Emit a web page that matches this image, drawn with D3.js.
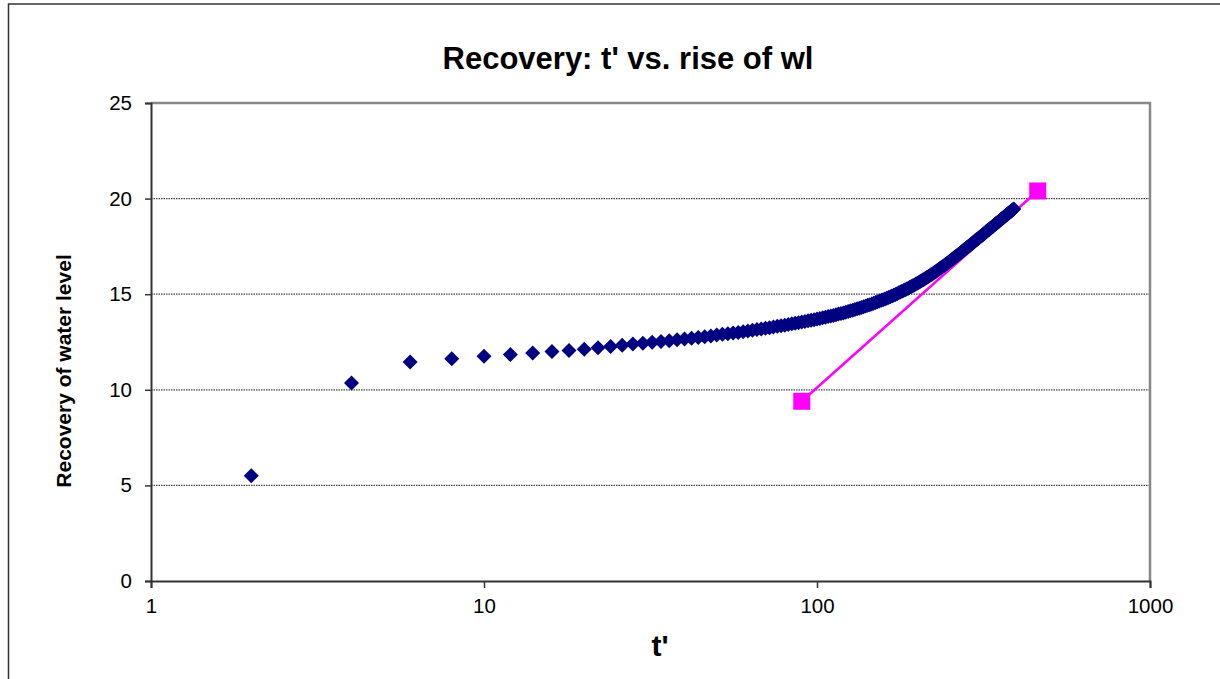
<!DOCTYPE html>
<html>
<head>
<meta charset="utf-8">
<script src="https://cdnjs.cloudflare.com/ajax/libs/d3/7.8.5/d3.min.js"></script>
<style>
  body { margin: 0; background: #fff; }
  text { font-family: Arial, "Liberation Sans", sans-serif; }
</style>
</head>
<body>
<script>
var width = 1220;
var height = 679;

// time since pumping stopped, t' (minutes)
var tPrime = [
  2, 4, 6, 8, 10, 12, 14, 16, 18, 20,
  22, 24, 26, 28, 30, 32, 34, 36, 38, 40,
  42, 44, 46, 48, 50, 52, 54, 56, 58, 60,
  62, 64, 66, 68, 70, 72, 74, 76, 78, 80,
  82, 84, 86, 88, 90, 92, 94, 96, 98, 100,
  102, 104, 106, 108, 110, 112, 114, 116, 118, 120,
  122, 124, 126, 128, 130, 132, 134, 136, 138, 140,
  142, 144, 146, 148, 150, 152, 154, 156, 158, 160,
  162, 164, 166, 168, 170, 172, 174, 176, 178, 180,
  182, 184, 186, 188, 190, 192, 194, 196, 198, 200,
  202, 204, 206, 208, 210, 212, 214, 216, 218, 220,
  222, 224, 226, 228, 230, 232, 234, 236, 238, 240,
  242, 244, 246, 248, 250, 252, 254, 256, 258, 260,
  262, 264, 266, 268, 270, 272, 274, 276, 278, 280,
  282, 284, 286, 288, 290, 292, 294, 296, 298, 300,
  302, 304, 306, 308, 310, 312, 314, 316, 318, 320,
  322, 324, 326, 328, 330, 332, 334, 336, 338, 340,
  342, 344, 346, 348, 350, 352, 354, 356, 358, 360,
  362, 364, 366, 368, 370, 372, 374, 376, 378, 380,
  382, 384, 386, 388, 390
];

// recovery of water level at each t'
var recovery = [
  5.50, 10.35, 11.45, 11.62, 11.75, 11.84, 11.93, 12.00, 12.06, 12.12,
  12.20, 12.27, 12.33, 12.39, 12.44, 12.49, 12.53, 12.57, 12.62, 12.66,
  12.70, 12.74, 12.78, 12.82, 12.86, 12.90, 12.93, 12.97, 13.00, 13.04,
  13.08, 13.11, 13.15, 13.18, 13.22, 13.25, 13.28, 13.32, 13.35, 13.38,
  13.41, 13.45, 13.48, 13.51, 13.54, 13.57, 13.61, 13.64, 13.67, 13.70,
  13.73, 13.77, 13.80, 13.83, 13.86, 13.89, 13.93, 13.96, 13.99, 14.02,
  14.06, 14.09, 14.13, 14.16, 14.20, 14.24, 14.27, 14.31, 14.34, 14.38,
  14.42, 14.45, 14.49, 14.53, 14.56, 14.60, 14.64, 14.68, 14.71, 14.75,
  14.79, 14.83, 14.87, 14.91, 14.95, 14.99, 15.03, 15.07, 15.11, 15.15,
  15.19, 15.23, 15.27, 15.31, 15.36, 15.40, 15.44, 15.48, 15.53, 15.57,
  15.61, 15.66, 15.70, 15.74, 15.79, 15.83, 15.88, 15.92, 15.97, 16.02,
  16.06, 16.11, 16.15, 16.20, 16.25, 16.29, 16.34, 16.39, 16.43, 16.48,
  16.53, 16.57, 16.62, 16.67, 16.71, 16.76, 16.81, 16.85, 16.90, 16.95,
  16.99, 17.04, 17.08, 17.13, 17.17, 17.22, 17.26, 17.31, 17.35, 17.39,
  17.44, 17.48, 17.52, 17.56, 17.61, 17.65, 17.69, 17.73, 17.78, 17.82,
  17.86, 17.90, 17.94, 17.98, 18.02, 18.06, 18.10, 18.14, 18.18, 18.22,
  18.26, 18.30, 18.34, 18.37, 18.41, 18.45, 18.49, 18.53, 18.56, 18.60,
  18.64, 18.68, 18.71, 18.75, 18.78, 18.82, 18.86, 18.89, 18.93, 18.96,
  19.00, 19.03, 19.07, 19.10, 19.13, 19.17, 19.20, 19.24, 19.27, 19.30,
  19.33, 19.37, 19.40, 19.43, 19.46
];

// straight line fitted to the late-time data
var fitT = [90, 460];
var fitY = [9.4, 20.4];

var xTicks = [1, 10, 100, 1000];
var yTicks = [0, 5, 10, 15, 20, 25];

var margin = { top: 103, right: 70, bottom: 98, left: 151 };
var plotW = width - margin.left - margin.right;
var plotH = height - margin.top - margin.bottom;

var x = d3.scaleLog().domain([1, 1000]).range([0, plotW]);
var y = d3.scaleLinear().domain([0, 25]).range([plotH, 0]);

var svg = d3.select('body')
  .append('svg')
  .attr('width', width)
  .attr('height', height);

// chart area frame (runs off the right and bottom of the picture)
svg.append('rect')
  .attr('x', 8.5)
  .attr('y', 4)
  .attr('width', 1300)
  .attr('height', 800)
  .attr('fill', '#fff')
  .attr('stroke', '#333')
  .attr('stroke-width', 1.5);

svg.append('text')
  .attr('x', 628)
  .attr('y', 69)
  .attr('text-anchor', 'middle')
  .attr('font-size', 31)
  .attr('font-weight', 'bold')
  .text("Recovery: t' vs. rise of wl");

var g = svg.append('g')
  .attr('transform', 'translate(' + margin.left + ',' + margin.top + ')');

// dotted gridlines
g.selectAll('.grid')
  .data(yTicks.filter(function(d) { return d > 0 && d < 25; }))
  .enter()
  .append('line')
  .attr('class', 'grid')
  .attr('x1', 0)
  .attr('x2', plotW)
  .attr('y1', function(d) { return y(d); })
  .attr('y2', function(d) { return y(d); })
  .attr('stroke', '#444')
  .attr('stroke-width', 1.3)
  .attr('stroke-dasharray', '1.5,1');

// plot area border, top and right
g.append('path')
  .attr('d', 'M0,0H' + plotW + 'V' + plotH)
  .attr('fill', 'none')
  .attr('stroke', '#888')
  .attr('stroke-width', 2.5);

var xAxis = g.append('g')
  .attr('transform', 'translate(0,' + plotH + ')')
  .call(d3.axisBottom(x).tickValues(xTicks).tickFormat(d3.format('d')).tickSizeOuter(0).tickSize(7).tickPadding(10));

var yAxis = g.append('g')
  .call(d3.axisLeft(y).tickValues(yTicks).tickSizeOuter(0).tickSize(6).tickPadding(13));

[xAxis, yAxis].forEach(function(a) {
  a.select('.domain').attr('stroke', '#333').attr('stroke-width', 2);
  a.selectAll('.tick line').attr('stroke', '#333').attr('stroke-width', 1.5);
  a.selectAll('.tick text')
    .attr('font-size', 20.5)
    .attr('font-family', 'Arial, "Liberation Sans", sans-serif')
    .attr('fill', '#000');
});

// axis titles
svg.append('text')
  .attr('x', 660)
  .attr('y', 656)
  .attr('text-anchor', 'middle')
  .attr('font-size', 30)
  .attr('font-weight', 'bold')
  .text("t'");

svg.append('text')
  .attr('transform', 'translate(71,371) rotate(-90)')
  .attr('text-anchor', 'middle')
  .attr('font-size', 21)
  .attr('font-weight', 'bold')
  .text('Recovery of water level');

// fitted line with square markers (drawn under the data points)
var fit = fitT.map(function(t, i) { return { t: t, v: fitY[i] }; });

g.append('path')
  .datum(fit)
  .attr('d', d3.line().x(function(d) { return x(d.t); }).y(function(d) { return y(d.v); }))
  .attr('fill', 'none')
  .attr('stroke', '#ff00ff')
  .attr('stroke-width', 2.5);

var sq = 17;
g.selectAll('.sq')
  .data(fit)
  .enter()
  .append('rect')
  .attr('class', 'sq')
  .attr('x', function(d) { return x(d.t) - sq / 2; })
  .attr('y', function(d) { return y(d.v) - sq / 2; })
  .attr('width', sq)
  .attr('height', sq)
  .attr('fill', '#ff00ff');

// observed recovery, diamond markers
var points = tPrime.map(function(t, i) { return { t: t, v: recovery[i] }; });
var dm = 7.5;

g.selectAll('.pt')
  .data(points)
  .enter()
  .append('path')
  .attr('class', 'pt')
  .attr('d', 'M0,' + (-dm) + 'L' + dm + ',0L0,' + dm + 'L' + (-dm) + ',0Z')
  .attr('transform', function(d) { return 'translate(' + x(d.t) + ',' + y(d.v) + ')'; })
  .attr('fill', '#000080');
</script>
</body>
</html>
